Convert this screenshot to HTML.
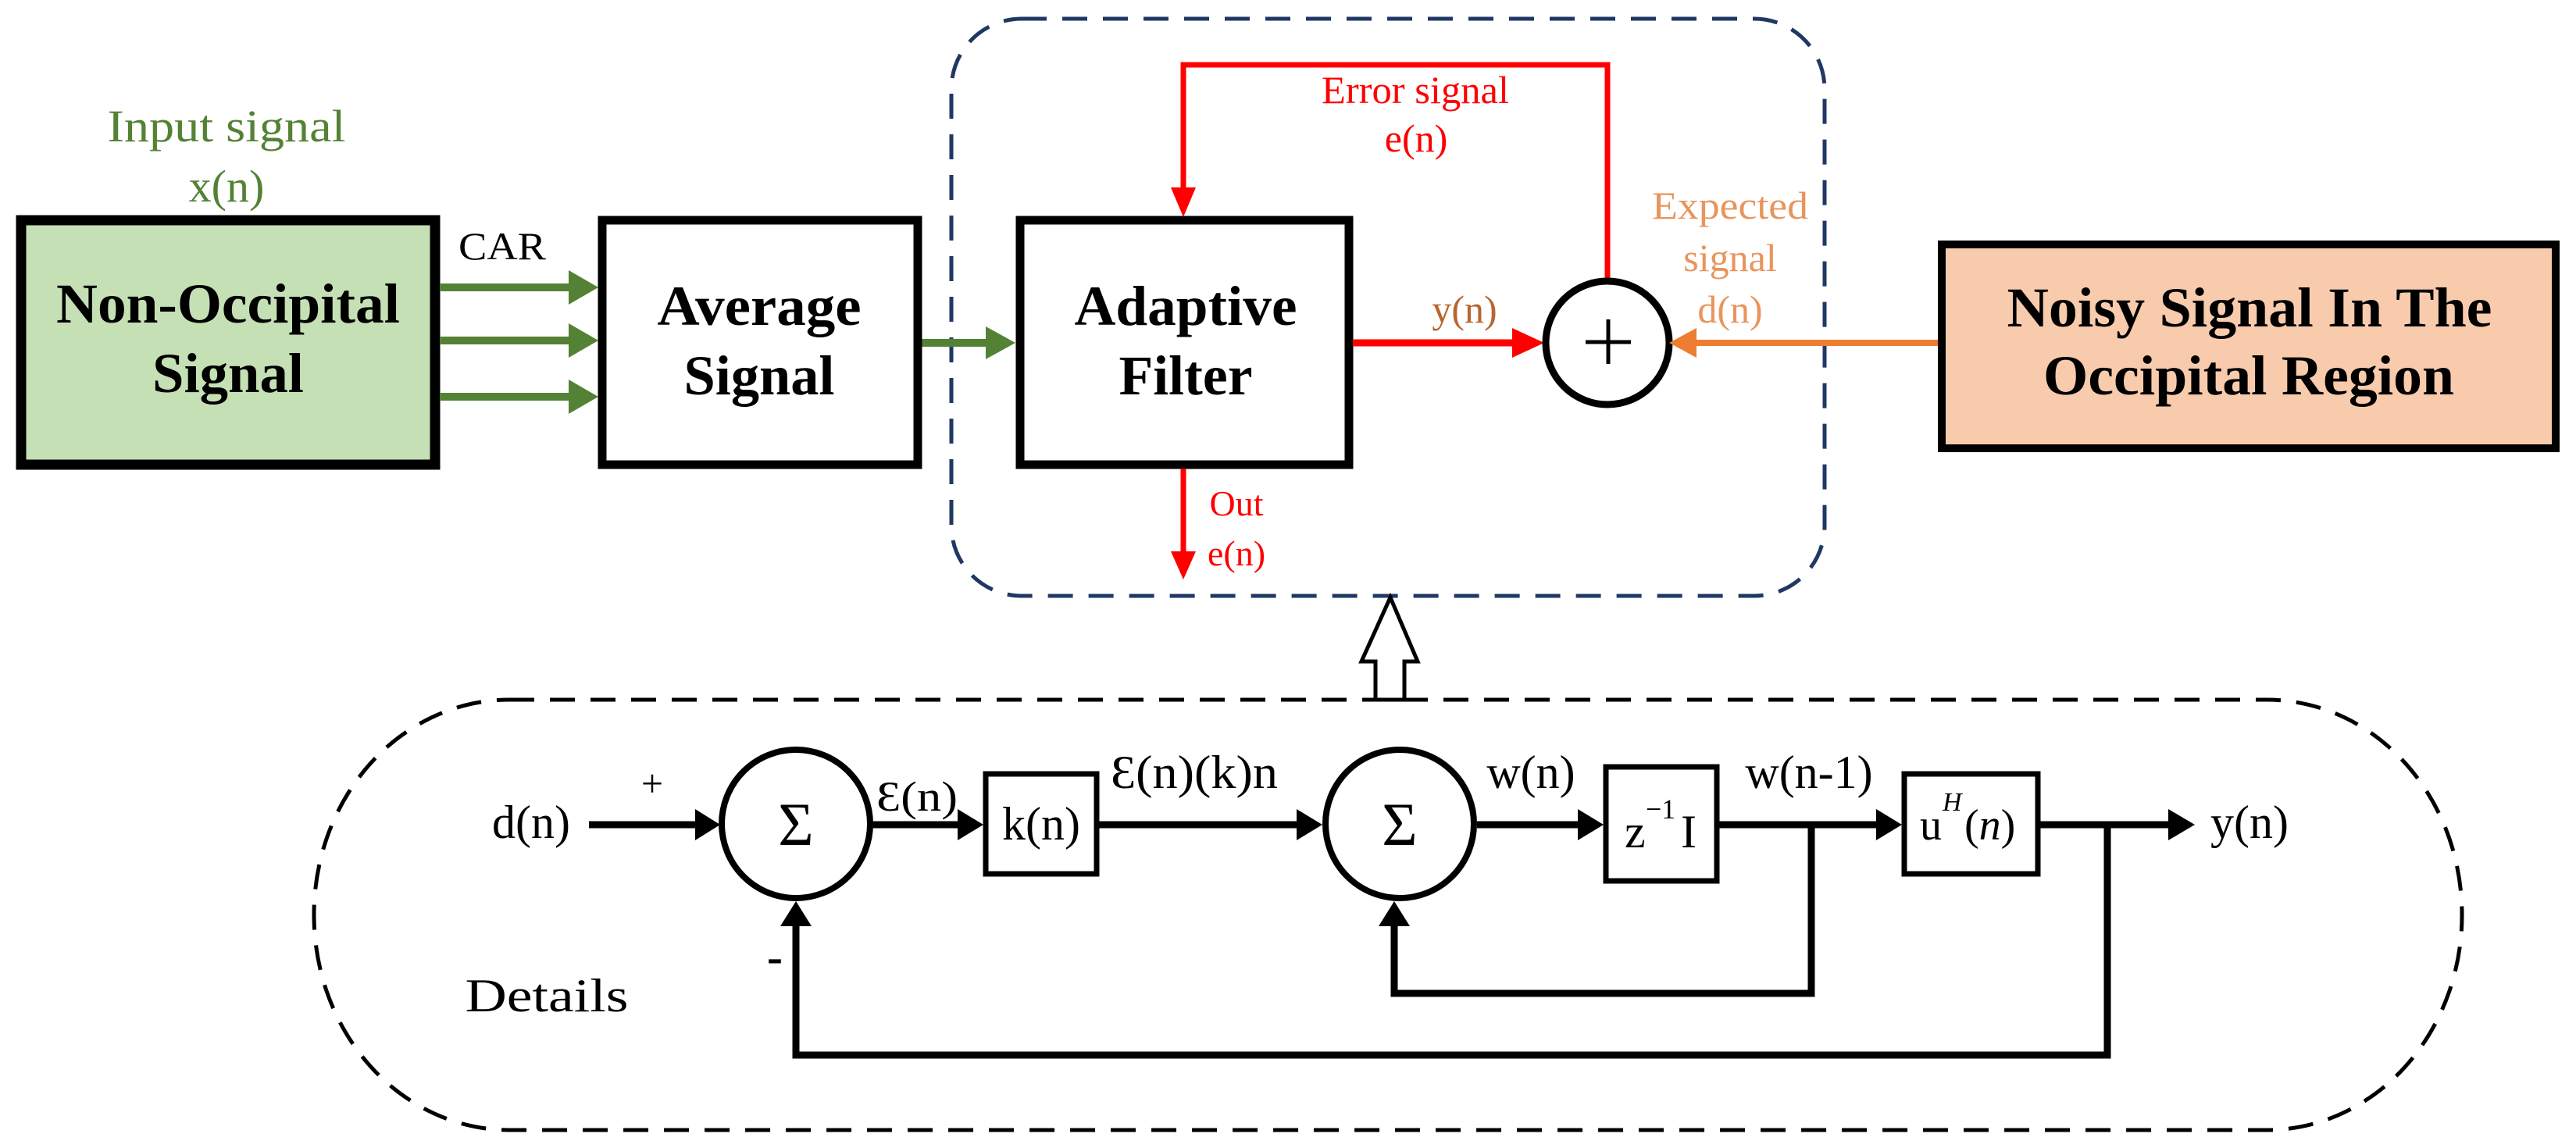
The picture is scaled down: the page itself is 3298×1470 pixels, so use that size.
<!DOCTYPE html>
<html><head><meta charset="utf-8"><style>
html,body{margin:0;padding:0;background:#fff;}
svg{display:block;}
text{font-family:"Liberation Serif",serif;}
</style></head><body>
<svg width="3298" height="1470" viewBox="0 0 3298 1470" xmlns="http://www.w3.org/2000/svg">
<rect width="3298" height="1470" fill="#fff"/>

<rect x="1218" y="24" width="1118" height="739" rx="90" ry="90" fill="none" stroke="#1f3864" stroke-width="5" stroke-dasharray="32 20"/>

<rect x="27" y="282" width="530" height="313" fill="#c5e0b4" stroke="#000" stroke-width="13"/>
<text x="292" y="413" font-size="72" font-weight="bold" text-anchor="middle" textLength="440" lengthAdjust="spacingAndGlyphs">Non-Occipital</text>
<text x="292" y="502" font-size="72" font-weight="bold" text-anchor="middle" textLength="194" lengthAdjust="spacingAndGlyphs">Signal</text>
<text x="290" y="181" font-size="58" fill="#548235" text-anchor="middle" textLength="305" lengthAdjust="spacingAndGlyphs">Input signal</text>
<text x="290" y="258" font-size="58" fill="#548235" text-anchor="middle">x(n)</text>
<text x="643" y="332" font-size="50" text-anchor="middle" textLength="112" lengthAdjust="spacingAndGlyphs">CAR</text>

<g stroke="#548235" stroke-width="10" fill="#548235">
<line x1="563" y1="368" x2="730" y2="368"/>
<line x1="563" y1="436" x2="730" y2="436"/>
<line x1="563" y1="508" x2="730" y2="508"/>
<line x1="1180" y1="439" x2="1268" y2="439"/>
</g>
<g fill="#548235">
<polygon points="728,346 766,368 728,390"/>
<polygon points="728,414 766,436 728,458"/>
<polygon points="728,486 766,508 728,530"/>
<polygon points="1262,418 1300,439 1262,460"/>
</g>

<rect x="771" y="282" width="404" height="313" fill="#fff" stroke="#000" stroke-width="11"/>
<text x="972" y="416" font-size="72" font-weight="bold" text-anchor="middle" textLength="261" lengthAdjust="spacingAndGlyphs">Average</text>
<text x="972" y="505" font-size="72" font-weight="bold" text-anchor="middle" textLength="193" lengthAdjust="spacingAndGlyphs">Signal</text>

<rect x="1306" y="282" width="421" height="313" fill="#fff" stroke="#000" stroke-width="11"/>
<text x="1518" y="416" font-size="72" font-weight="bold" text-anchor="middle" textLength="285" lengthAdjust="spacingAndGlyphs">Adaptive</text>
<text x="1518" y="505" font-size="72" font-weight="bold" text-anchor="middle" textLength="171" lengthAdjust="spacingAndGlyphs">Filter</text>

<polyline points="1515,246 1515,83 2058,83 2058,359" fill="none" stroke="#f00" stroke-width="7"/>
<polygon points="1499,240 1531,240 1515,278" fill="#f00"/>
<text x="1812" y="132" font-size="50" fill="#f00" text-anchor="middle" textLength="240" lengthAdjust="spacingAndGlyphs">Error signal</text>
<text x="1813" y="194" font-size="50" fill="#f00" text-anchor="middle">e(n)</text>

<line x1="1515" y1="600" x2="1515" y2="712" stroke="#f00" stroke-width="7"/>
<polygon points="1499,706 1531,706 1515,742" fill="#f00"/>
<text x="1583" y="660" font-size="46" fill="#f00" text-anchor="middle">Out</text>
<text x="1583" y="724" font-size="46" fill="#f00" text-anchor="middle">e(n)</text>

<line x1="1732" y1="439" x2="1945" y2="439" stroke="#f00" stroke-width="9"/>
<polygon points="1936,420 1977,439 1936,458" fill="#f00"/>
<text x="1875" y="413" font-size="50" fill="#b8652e" text-anchor="middle">y(n)</text>

<circle cx="2058" cy="439" r="79" fill="#fff" stroke="#000" stroke-width="9"/>
<line x1="2030" y1="438" x2="2088" y2="438" stroke="#000" stroke-width="5"/>
<line x1="2059" y1="409" x2="2059" y2="466" stroke="#000" stroke-width="5"/>

<line x1="2481" y1="439" x2="2165" y2="439" stroke="#ed7d31" stroke-width="8"/>
<polygon points="2172,420 2137,439 2172,458" fill="#ed7d31"/>
<text x="2215" y="280" font-size="50" fill="#e8955c" text-anchor="middle" textLength="200" lengthAdjust="spacingAndGlyphs">Expected</text>
<text x="2215" y="347" font-size="50" fill="#e8955c" text-anchor="middle">signal</text>
<text x="2215" y="413" font-size="50" fill="#e8955c" text-anchor="middle">d(n)</text>

<rect x="2486" y="313" width="786" height="261" fill="#f8cbad" stroke="#000" stroke-width="10"/>
<text x="2880" y="418" font-size="72" font-weight="bold" text-anchor="middle" textLength="621" lengthAdjust="spacingAndGlyphs">Noisy Signal In The</text>
<text x="2879" y="505" font-size="72" font-weight="bold" text-anchor="middle" textLength="526" lengthAdjust="spacingAndGlyphs">Occipital Region</text>

<polygon points="1780,765 1815,847 1798,847 1798,896 1761,896 1761,847 1743,847" fill="#fff" stroke="#000" stroke-width="5"/>

<rect x="402" y="896" width="2750" height="551" rx="250" ry="275" fill="none" stroke="#000" stroke-width="5" stroke-dasharray="32 20"/>

<text x="680" y="1073" font-size="60" text-anchor="middle">d(n)</text>
<text x="835" y="1020" font-size="50" text-anchor="middle">+</text>
<text x="992" y="1245" font-size="60" font-weight="bold" text-anchor="middle">-</text>
<text x="700" y="1295" font-size="60" text-anchor="middle" textLength="209" lengthAdjust="spacingAndGlyphs">Details</text>

<g stroke="#000" stroke-width="9" fill="none">
<line x1="754" y1="1056" x2="895" y2="1056"/>
<line x1="1116" y1="1056" x2="1232" y2="1056"/>
<line x1="1407" y1="1056" x2="1666" y2="1056"/>
<line x1="1891" y1="1056" x2="2026" y2="1056"/>
<line x1="2201" y1="1056" x2="2408" y2="1056"/>
<line x1="2612" y1="1056" x2="2782" y2="1056"/>
<polyline points="1019,1180 1019,1351 2698,1351 2698,1056"/>
<polyline points="1785,1180 1785,1272 2319,1272 2319,1056"/>
</g>
<g fill="#000">
<polygon points="890,1036 922,1056 890,1076"/>
<polygon points="1226,1036 1259,1056 1226,1076"/>
<polygon points="1660,1036 1693,1056 1660,1076"/>
<polygon points="2020,1036 2053,1056 2020,1076"/>
<polygon points="2402,1036 2435,1056 2402,1076"/>
<polygon points="2776,1036 2810,1056 2776,1076"/>
<polygon points="999,1186 1019,1154 1039,1186"/>
<polygon points="1765,1186 1785,1154 1805,1186"/>
</g>

<circle cx="1019" cy="1055" r="95" fill="#fff" stroke="#000" stroke-width="8"/>
<text x="1019" y="1082" font-size="78" text-anchor="middle">Σ</text>
<circle cx="1792" cy="1055" r="95" fill="#fff" stroke="#000" stroke-width="8"/>
<text x="1792" y="1082" font-size="78" text-anchor="middle">Σ</text>

<text x="1174" y="1038" font-size="54" text-anchor="middle" textLength="104" lengthAdjust="spacingAndGlyphs">Ɛ(n)</text>
<rect x="1262" y="991" width="142" height="128" fill="#fff" stroke="#000" stroke-width="7"/>
<text x="1333" y="1075" font-size="60" text-anchor="middle">k(n)</text>
<text x="1529" y="1009" font-size="60" text-anchor="middle" textLength="214" lengthAdjust="spacingAndGlyphs">Ɛ(n)(k)n</text>

<text x="1960" y="1009" font-size="60" text-anchor="middle">w(n)</text>
<rect x="2056" y="982" width="142" height="146" fill="#fff" stroke="#000" stroke-width="7"/>
<text x="2080" y="1085" font-size="60">z</text>
<text x="2107" y="1048" font-size="36">−1</text>
<text x="2152" y="1085" font-size="60">I</text>
<text x="2316" y="1009" font-size="60" text-anchor="middle">w(n-1)</text>

<rect x="2438" y="991" width="171" height="128" fill="#fff" stroke="#000" stroke-width="7"/>
<text x="2458" y="1075" font-size="56">u</text>
<text x="2487" y="1038" font-size="34" font-style="italic">H</text>
<text x="2515" y="1075" font-size="56">(<tspan font-style="italic">n</tspan>)</text>

<text x="2880" y="1073" font-size="60" text-anchor="middle">y(n)</text>
</svg>
</body></html>
